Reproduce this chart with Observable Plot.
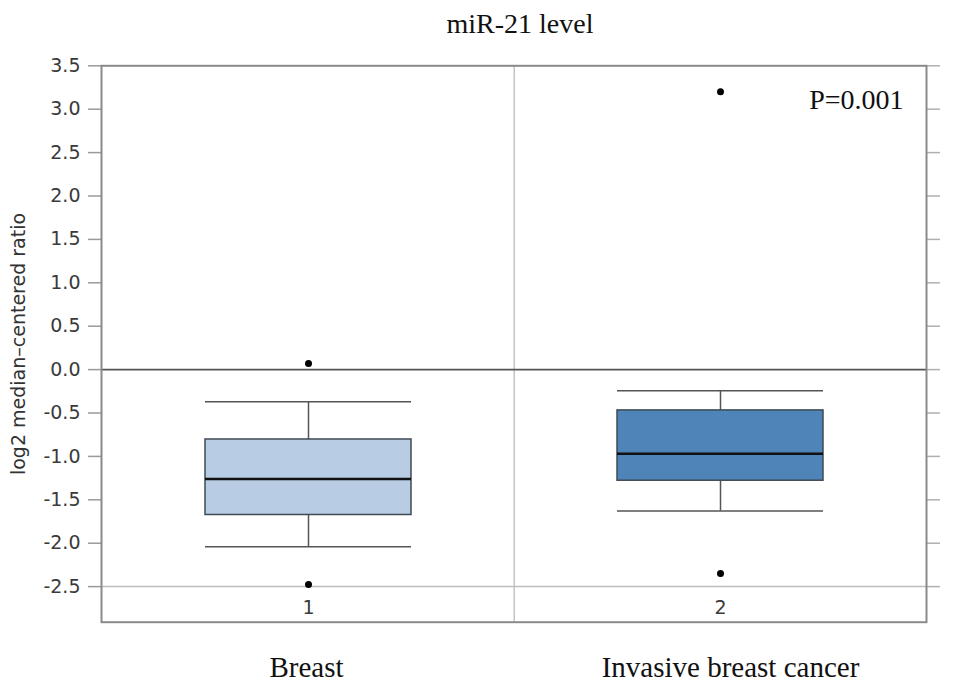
<!DOCTYPE html>
<html>
<head>
<meta charset="utf-8">
<script src="https://cdn.jsdelivr.net/npm/d3@7"></script>
<script src="https://cdn.jsdelivr.net/npm/@observablehq/plot@0.6"></script>
<style>
  html, body { margin: 0; padding: 0; background: #fff; }
</style>
</head>
<body>
<div id="chart"></div>
<script>
// ---- data ----
const categories = ["1", "2"];
const groupNames = ["Breast", "Invasive breast cancer"];
const whiskerHigh = [-0.37, -0.245];
const q3 = [-0.805, -0.47];
const median = [-1.26, -0.97];
const q1 = [-1.675, -1.28];
const whiskerLow = [-2.04, -1.63];
const outlierCat = ["1", "1", "2", "2"];
const outlierVal = [0.07, -2.475, 3.2, -2.35];
const boxColors = ["#b8cce3", "#4f84b8"];
const yTicks = [-2.5, -2.0, -1.5, -1.0, -0.5, 0.0, 0.5, 1.0, 1.5, 2.0, 2.5, 3.0, 3.5];
const title = "miR-21 level";
const yLabel = "log2 median\u2013centered ratio";
const pText = "P=0.001";

const boxes = categories.map((c, i) => ({
  cat: c, name: groupNames[i], hi: whiskerHigh[i], q3: q3[i], med: median[i],
  q1: q1[i], lo: whiskerLow[i], color: boxColors[i]
}));
const outliers = outlierCat.map((c, i) => ({cat: c, v: outlierVal[i]}));

const sans = "DejaVu Sans, sans-serif";
const serif = "Liberation Serif, Times New Roman, serif";

const chart = Plot.plot({
  width: 966,
  height: 686,
  marginLeft: 101,
  marginRight: 40,
  marginTop: 65.3,
  marginBottom: 64.3,
  style: {background: "#fff", overflow: "visible"},
  x: {type: "band", domain: categories, paddingInner: 0.5, paddingOuter: 0.25, axis: null},
  y: {domain: [-2.91, 3.5], axis: null},
  marks: [
    // reference lines & divider
    Plot.ruleY([-2.5], {stroke: "#bdbdbd", strokeWidth: 1.5}),
    Plot.ruleX(["2"], {dx: -206.25, stroke: "#c4c4c4", strokeWidth: 1.5}),
    Plot.ruleY([0], {stroke: "#555", strokeWidth: 1.6}),
    // axes (ticks)
    Plot.axisY({
      anchor: "left", ticks: yTicks, tickSize: 13, tickFormat: () => "", label: null,
      stroke: "#9a9a9a", strokeWidth: 1.5
    }),
    Plot.axisY({
      anchor: "right", ticks: yTicks, tickSize: 13, tickFormat: () => "", label: null,
      stroke: "#b0b0b0", strokeWidth: 1.5
    }),
    // tick labels
    Plot.text(yTicks, {y: d => d, text: d => d.toFixed(1), frameAnchor: "left", textAnchor: "end",
      dx: -21, lineAnchor: "middle", fontSize: 19, fontFamily: sans, fill: "#3a3a3a"}),
    // whiskers
    Plot.ruleX(boxes, {x: "cat", y1: "q3", y2: "hi", stroke: "#555", strokeWidth: 1.5}),
    Plot.ruleX(boxes, {x: "cat", y1: "q1", y2: "lo", stroke: "#555", strokeWidth: 1.5}),
    Plot.tickY(boxes, {x: "cat", y: "hi", stroke: "#555", strokeWidth: 1.5}),
    Plot.tickY(boxes, {x: "cat", y: "lo", stroke: "#555", strokeWidth: 1.5}),
    // boxes
    Plot.barY(boxes, {x: "cat", y1: "q1", y2: "q3", fill: "color", stroke: "#3f4a55", strokeWidth: 1.5}),
    Plot.tickY(boxes, {x: "cat", y: "med", stroke: "#111", strokeWidth: 2.6}),
    // outliers
    Plot.dot(outliers, {x: "cat", y: "v", r: 3.5, fill: "#000", stroke: "none"}),
    // category numbers inside frame
    Plot.text(categories, {x: d => d, frameAnchor: "bottom", dy: -14, lineAnchor: "middle",
      fontSize: 19, fontFamily: sans, fill: "#3a3a3a"}),
    // group names below
    Plot.text([boxes[0]], {x: "cat", text: "name", frameAnchor: "bottom", lineAnchor: "bottom", dy: 55, dx: -2,
      fontSize: 29, fontFamily: serif, fill: "#111"}),
    Plot.text([boxes[1]], {x: "cat", text: "name", frameAnchor: "bottom", lineAnchor: "bottom", dy: 55, dx: 10,
      fontSize: 29, fontFamily: serif, fill: "#111"}),
    // title
    Plot.text([title], {frameAnchor: "top", textAnchor: "middle", dx: 6, dy: -33, lineAnchor: "bottom",
      fontSize: 28, fontFamily: serif, fill: "#111"}),
    // p value
    Plot.text([pText], {frameAnchor: "top-right", textAnchor: "end", dx: -23, dy: 43, lineAnchor: "bottom",
      fontSize: 28, fontFamily: serif, fill: "#111"}),
    // y label
    Plot.text([yLabel], {frameAnchor: "left", textAnchor: "middle", dx: -83, rotate: -90, lineAnchor: "middle",
      fontSize: 19, fontFamily: sans, fill: "#333"}),
    // frame
    Plot.frame({stroke: "#8a8a8a", strokeWidth: 2})
  ]
});
document.getElementById("chart").appendChild(chart);
</script>
</body>
</html>
